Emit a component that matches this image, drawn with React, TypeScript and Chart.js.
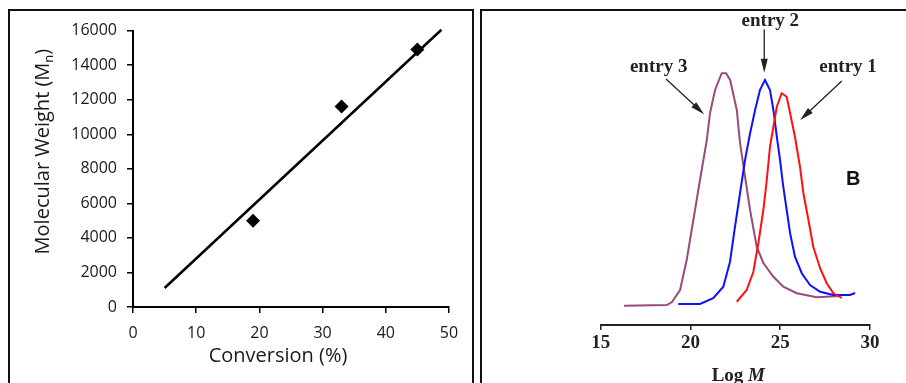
import React, { useEffect, useRef } from "react";
import { Chart, registerables } from "chart.js";

Chart.register(...registerables);

// ---------- Left panel data ----------
const conversion = [19, 33, 45];
const molecularWeight = [5000, 11600, 14900];
const fitConversion = [5, 48.8];
const fitMolecularWeight = [1100, 16050];

// ---------- Right panel data (GPC traces) ----------
const entry3LogM = [16.3, 18.68, 18.97, 19.42, 19.79, 20.16, 20.53, 20.91, 21.09, 21.37, 21.74, 21.98, 22.21, 22.58, 22.76, 23.04, 23.32, 23.69, 24.06, 24.62, 25.17, 25.92, 27.03, 28.33];
const entry3Signal = [7.7, 8, 9.2, 14, 26, 42, 58, 74, 84.8, 94, 100.7, 100.7, 98, 86, 72.8, 59.3, 46, 31.3, 24.8, 19.3, 15.3, 12.7, 11.1, 11.6];

const entry2LogM = [19.32, 20.53, 21.27, 21.83, 22.2, 22.48, 22.76, 23.04, 23.32, 23.6, 23.87, 24.15, 24.43, 24.62, 24.81, 24.99, 25.17, 25.36, 25.55, 25.82, 26.2, 26.66, 27.22, 27.96, 28.89, 29.17];
const entry2Signal = [8.4, 8.4, 10.7, 15.3, 25.2, 39.3, 52.7, 66, 76.7, 86, 94, 98, 94, 86, 75.3, 66, 55.3, 46, 36.7, 27.3, 20.7, 16, 13.3, 12, 12, 12.8];

const entry1LogM = [22.58, 23.13, 23.5, 23.78, 24.06, 24.25, 24.43, 24.62, 24.81, 25.08, 25.36, 25.55, 25.82, 26.1, 26.29, 26.57, 26.84, 27.22, 27.59, 27.96, 28.43];
const entry1Signal = [9.3, 14, 21.2, 32.7, 46, 58, 71.3, 79.3, 87.3, 92.7, 91.3, 84.7, 75.3, 63.3, 52.7, 42, 31.3, 22.7, 16.7, 12.7, 10.8];

// annotation anchors in data units of the right chart
const entryLabels = [
  { text: "entry 3", x: 18.23, y: 101.3 },
  { text: "entry 2", x: 24.45, y: 119.6 },
  { text: "entry 1", x: 28.78, y: 101.3 },
];
const entryArrows = [
  { x1: 18.64, y1: 98.4, x2: 20.76, y2: 84.3 },
  { x1: 24.11, y1: 118.3, x2: 24.11, y2: 100.9 },
  { x1: 28.43, y1: 97.6, x2: 26.11, y2: 82 },
];
const panelLabel = { text: "B", x: 29.06, y: 58.4 };

const SANS = "'Open Sans', sans-serif";
const SERIF = "'Liberation Serif', 'Times New Roman', serif";

const leftTitles = {
  id: "leftTitles",
  afterDraw(chart: any) {
    const { ctx, chartArea } = chart;
    ctx.save();
    ctx.fillStyle = "#1a1a1a";
    // x title
    ctx.font = `20px ${SANS}`;
    ctx.textAlign = "center";
    ctx.textBaseline = "alphabetic";
    ctx.fillText("Conversion (%)", chartArea.left + 145, chartArea.bottom + 55);
    // y title with subscript
    const main = "Molecular Weight (M";
    const sub = "n";
    const close = ")";
    ctx.font = `20px ${SANS}`;
    const wMain = ctx.measureText(main).width;
    const wClose = ctx.measureText(close).width;
    ctx.font = `13px ${SANS}`;
    const wSub = ctx.measureText(sub).width;
    const total = wMain + wSub + wClose;
    ctx.translate(chartArea.left - 84, chartArea.top + 121);
    ctx.rotate(-Math.PI / 2);
    ctx.textAlign = "left";
    let x0 = -total / 2;
    ctx.font = `20px ${SANS}`;
    ctx.fillText(main, x0, 0);
    x0 += wMain;
    ctx.font = `13px ${SANS}`;
    ctx.fillText(sub, x0, 4);
    x0 += wSub;
    ctx.font = `20px ${SANS}`;
    ctx.fillText(close, x0, 0);
    ctx.restore();
  },
};

function drawArrow(ctx: any, x1: number, y1: number, x2: number, y2: number) {
  const ang = Math.atan2(y2 - y1, x2 - x1);
  const headLen = 14;
  const headW = 3.5;
  ctx.beginPath();
  ctx.moveTo(x1, y1);
  ctx.lineTo(x2 - Math.cos(ang) * headLen * 0.6, y2 - Math.sin(ang) * headLen * 0.6);
  ctx.stroke();
  const bx = x2 - Math.cos(ang) * headLen;
  const by = y2 - Math.sin(ang) * headLen;
  ctx.beginPath();
  ctx.moveTo(x2, y2);
  ctx.lineTo(bx + Math.sin(ang) * headW, by - Math.cos(ang) * headW);
  ctx.lineTo(bx - Math.sin(ang) * headW, by + Math.cos(ang) * headW);
  ctx.closePath();
  ctx.fill();
}

const rightAnnotations = {
  id: "rightAnnotations",
  afterDraw(chart: any) {
    const { ctx, chartArea, scales } = chart;
    const xs = scales.x;
    const ys = scales.y;
    ctx.save();
    ctx.fillStyle = "#222";
    ctx.strokeStyle = "#222";
    ctx.lineWidth = 1.3;
    ctx.font = `bold 19px ${SERIF}`;
    ctx.textAlign = "center";
    ctx.textBaseline = "alphabetic";
    entryLabels.forEach((l) => {
      ctx.fillText(l.text, xs.getPixelForValue(l.x), ys.getPixelForValue(l.y));
    });
    entryArrows.forEach((a) => {
      drawArrow(ctx, xs.getPixelForValue(a.x1), ys.getPixelForValue(a.y1), xs.getPixelForValue(a.x2), ys.getPixelForValue(a.y2));
    });
    ctx.fillStyle = "#111";
    ctx.font = `bold 20px 'Liberation Sans', Arial, sans-serif`;
    ctx.textBaseline = "middle";
    ctx.fillText(panelLabel.text, xs.getPixelForValue(panelLabel.x), ys.getPixelForValue(panelLabel.y));
    // x title "Log M"
    ctx.fillStyle = "#222";
    ctx.textBaseline = "alphabetic";
    ctx.textAlign = "left";
    const a = "Log ";
    const b = "M";
    ctx.font = `bold 19px ${SERIF}`;
    const wa = ctx.measureText(a).width;
    ctx.font = `italic bold 19px ${SERIF}`;
    const wb = ctx.measureText(b).width;
    const cx = (chartArea.left + chartArea.right) / 2 + 3;
    const by = chartArea.bottom + 56;
    let x0 = cx - (wa + wb) / 2;
    ctx.font = `bold 19px ${SERIF}`;
    ctx.fillText(a, x0, by);
    ctx.font = `italic bold 19px ${SERIF}`;
    ctx.fillText(b, x0 + wa, by);
    ctx.restore();
  },
};

export default function App() {
  const leftRef = useRef<HTMLCanvasElement>(null);
  const rightRef = useRef<HTMLCanvasElement>(null);

  useEffect(() => {
    document.body.style.margin = "0";
    const left = new Chart(leftRef.current as HTMLCanvasElement, {
      type: "scatter",
      data: {
        datasets: [
          {
            type: "scatter",
            data: conversion.map((x, i) => ({ x, y: molecularWeight[i] })),
            pointStyle: "rectRot",
            pointRadius: 7,
            backgroundColor: "#000",
            borderColor: "#000",
            borderWidth: 0,
            order: 0,
          },
          {
            type: "line",
            data: fitConversion.map((x, i) => ({ x, y: fitMolecularWeight[i] })),
            borderColor: "#000",
            borderWidth: 2.5,
            pointRadius: 0,
            tension: 0,
            clip: false,
            order: 1,
          } as any,
        ],
      },
      options: {
        animation: false,
        responsive: false,
        maintainAspectRatio: false,
        layout: { padding: { top: 17, right: 21, left: 0, bottom: 0 } },
        plugins: { legend: { display: false }, tooltip: { enabled: false } },
        scales: {
          x: {
            type: "linear",
            min: 0,
            max: 50,
            ticks: { stepSize: 10, font: { family: SANS, size: 16 }, color: "#1a1a1a", padding: 11, callback: (v: any) => String(v) },
            grid: { drawOnChartArea: false, tickLength: 6, color: "#000", lineWidth: 1.5 },
            border: { color: "#000", width: 2 },
            afterFit: (s: any) => {
              s.height = 76;
            },
          },
          y: {
            type: "linear",
            min: 0,
            max: 16000,
            ticks: { stepSize: 2000, font: { family: SANS, size: 16 }, color: "#1a1a1a", padding: 10, callback: (v: any) => String(v) },
            grid: { drawOnChartArea: false, tickLength: 6, color: "#000", lineWidth: 1.5 },
            border: { color: "#000", width: 2 },
            afterFit: (s: any) => {
              s.width = 123;
            },
          },
        },
      },
      plugins: [leftTitles],
    });

    const mk = (lx: number[], ly: number[], color: string, order: number) => ({
      data: lx.map((x, i) => ({ x, y: ly[i] })),
      borderColor: color,
      borderWidth: 2,
      pointRadius: 0,
      tension: 0,
      fill: false,
      order,
    });

    const right = new Chart(rightRef.current as HTMLCanvasElement, {
      type: "line",
      data: {
        datasets: [
          mk(entry3LogM, entry3Signal, "#9b4a7c", 2),
          mk(entry2LogM, entry2Signal, "#1010ff", 1),
          mk(entry1LogM, entry1Signal, "#ff1010", 0),
        ],
      },
      options: {
        animation: false,
        responsive: false,
        maintainAspectRatio: false,
        layout: { padding: { top: 14, right: 36, left: 117.7, bottom: 0 } },
        plugins: { legend: { display: false }, tooltip: { enabled: false } },
        scales: {
          x: {
            type: "linear",
            min: 15,
            max: 30,
            ticks: { stepSize: 5, font: { family: SERIF, size: 19, weight: "bold" }, color: "#222", padding: 2 },
            grid: { drawOnChartArea: false, tickLength: 5, color: "#222", lineWidth: 1.5 },
            border: { color: "#222", width: 2 },
            afterFit: (s: any) => {
              s.height = 58;
            },
          },
          y: { type: "linear", display: false, min: 0, max: 120 },
        },
      },
      plugins: [rightAnnotations],
    });

    return () => {
      left.destroy();
      right.destroy();
    };
  }, []);

  return (
    <div style={{ position: "absolute", left: 0, top: 0, width: 906, height: 383, overflow: "hidden", background: "#fff" }}>
      <div style={{ position: "absolute", left: 8, top: 9, width: 466, height: 420, border: "2px solid #111", boxSizing: "border-box" }} />
      <div style={{ position: "absolute", left: 480, top: 9, width: 480, height: 420, border: "2px solid #111", boxSizing: "border-box" }} />
      <canvas ref={leftRef} width={460} height={372} style={{ position: "absolute", left: 10, top: 11, width: 460, height: 372 }} />
      <canvas ref={rightRef} width={423} height={372} style={{ position: "absolute", left: 483, top: 11, width: 423, height: 372 }} />
    </div>
  );
}
